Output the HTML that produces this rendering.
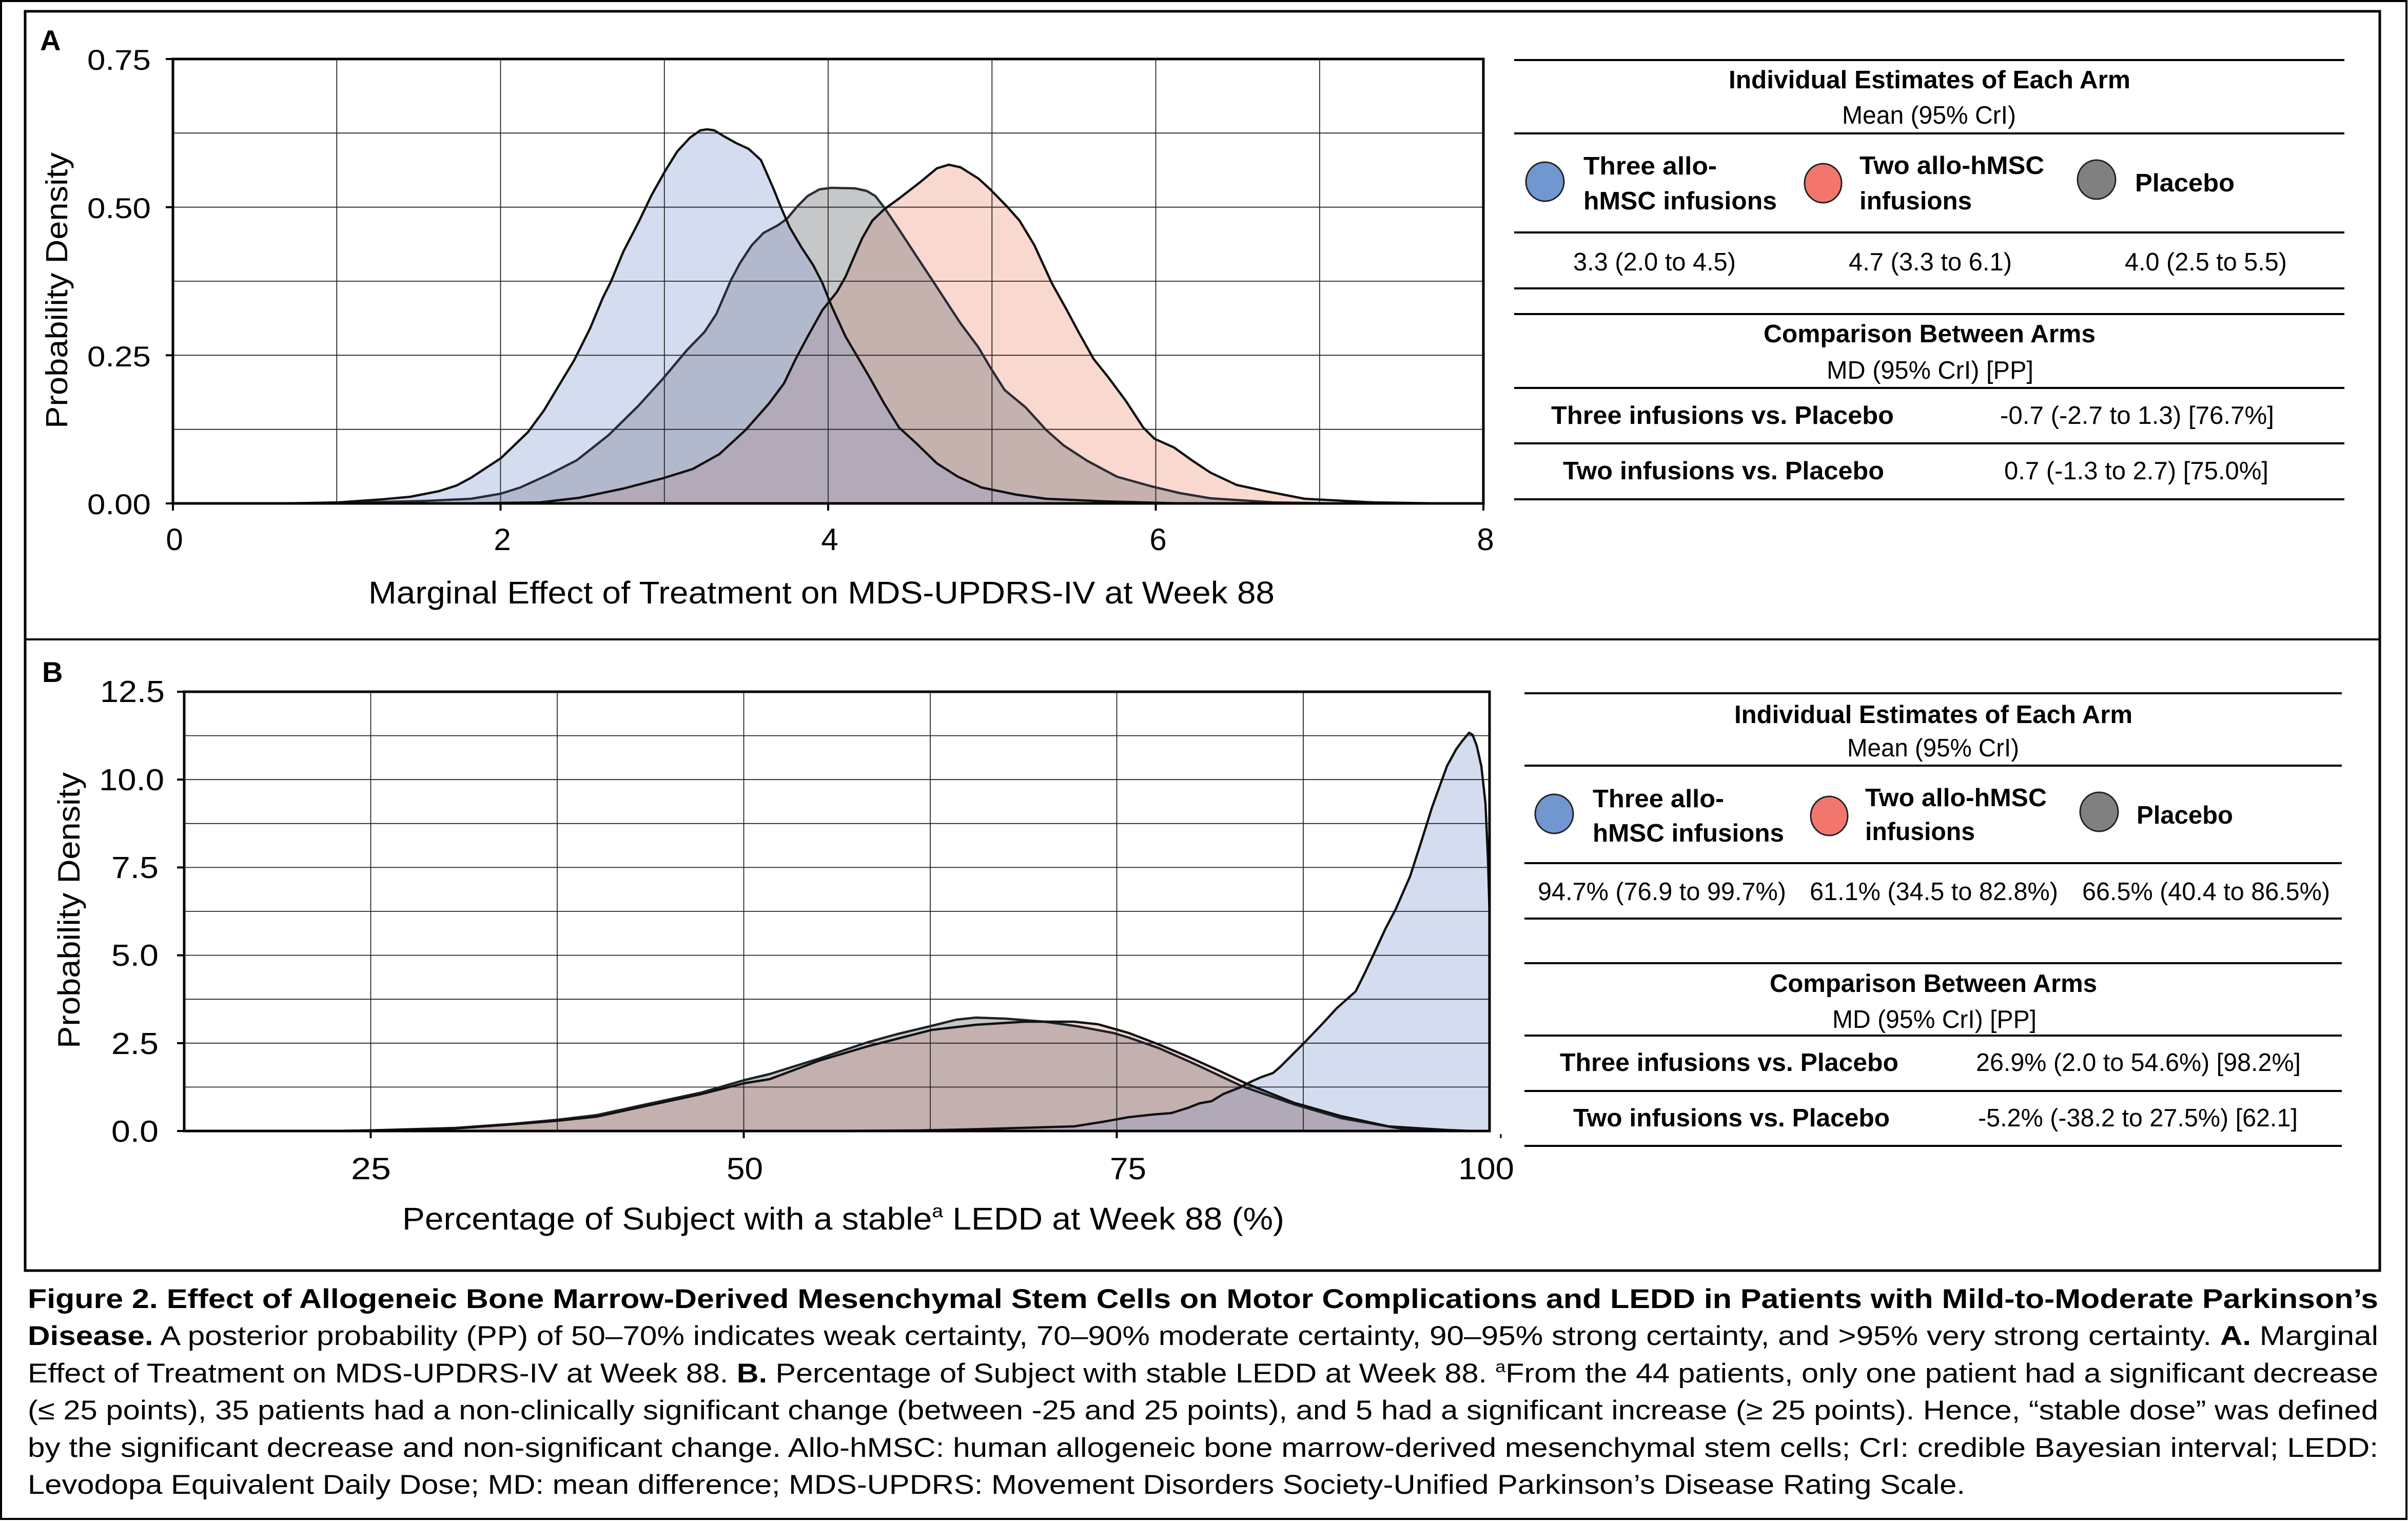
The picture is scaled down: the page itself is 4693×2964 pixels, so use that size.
<!DOCTYPE html>
<html>
<head>
<meta charset="utf-8">
<style>
html,body{margin:0;padding:0;background:#fff;}
svg{display:block;}
text{font-family:"Liberation Sans",Arial,sans-serif;fill:#000;}
.b{font-weight:bold;}
</style>
</head>
<body>
<svg width="4693" height="2964" viewBox="0 0 4693 2964" xmlns="http://www.w3.org/2000/svg">
<defs>
  <clipPath id="plotA"><rect x="337" y="115" width="2554" height="866"/></clipPath>
  <clipPath id="plotB"><rect x="359" y="1348" width="2544" height="856"/></clipPath>
  <clipPath id="cBA"><polygon points="560,981 660,979 746,973 800,968 856,957 890,946 918,931 950,910 976,893 1000,870 1029,842 1060,800 1090,750 1119,702 1150,640 1175,580 1191,548 1215,490 1244,434 1270,380 1297,332 1320,295 1345,268 1365,254 1378,252 1392,254 1410,265 1435,279 1459,290 1470,300 1483,312 1491,330 1508,369 1522,404 1539,443 1562,482 1585,517 1603,552 1620,595 1648,656 1671,695 1694,734 1723,786 1752,833 1786,864 1826,903 1867,929 1913,950 1981,964 2039,972 2154,977 2300,981"/></clipPath>
  <clipPath id="cGA"><polygon points="500,981 670,980 832,976 918,972 976,962 1014,950 1071,924 1124,897 1186,848 1244,791 1292,738 1339,682 1373,647 1396,612 1425,545 1442,513 1465,478 1488,454 1516,439 1534,426 1554,402 1574,382 1597,369 1620,366 1666,367 1689,372 1706,382 1723,404 1752,447 1786,499 1821,552 1849,595 1872,630 1907,677 1930,716 1958,760 1999,794 2039,838 2073,868 2119,898 2177,929 2245,948 2300,961 2359,971 2482,979 2600,981"/></clipPath>
  <clipPath id="cBB"><polygon points="1600,2204 1787,2203 1883,2201 2093,2195 2150,2186 2200,2177 2246,2172 2283,2169 2315,2159 2338,2150 2361,2146 2384,2132 2417,2119 2440,2107 2458,2099 2481,2091 2495,2079 2523,2051 2541,2033 2564,2009 2582,1990 2605,1965 2624,1948 2642,1932 2658,1900 2677,1860 2700,1810 2720,1772 2748,1708 2770,1640 2791,1573 2820,1493 2838,1460 2849,1445 2863,1428 2870,1432 2878,1453 2887,1493 2895,1565 2900,1676 2903,1780 2903,2204"/></clipPath>
  <clipPath id="cGB"><polygon points="650,2204 714,2203 888,2198 1000,2190 1087,2182 1163,2173 1255,2153 1367,2129 1450,2105 1500,2093 1596,2063 1691,2031 1749,2015 1816,1999 1864,1987 1902,1983 1959,1985 2036,1991 2100,2000 2170,2013 2200,2022 2260,2043 2332,2075 2421,2117 2522,2152 2614,2179 2728,2199 2797,2203 2850,2204"/></clipPath>
</defs>

<!-- frames -->
<rect x="2" y="2" width="4688" height="2958" fill="none" stroke="#000" stroke-width="4"/>
<rect x="49" y="22" width="4589" height="2454" fill="none" stroke="#000" stroke-width="5"/>
<line x1="49" y1="1246" x2="4638" y2="1246" stroke="#000" stroke-width="4"/>

<!-- ================= PANEL A ================= -->
<text class="b" x="78" y="98" font-size="56">A</text>

<g clip-path="url(#plotA)">
  <!-- blue -->
  <polygon fill="#d3ddef" points="560,981 660,979 746,973 800,968 856,957 890,946 918,931 950,910 976,893 1000,870 1029,842 1060,800 1090,750 1119,702 1150,640 1175,580 1191,548 1215,490 1244,434 1270,380 1297,332 1320,295 1345,268 1365,254 1378,252 1392,254 1410,265 1435,279 1459,290 1470,300 1483,312 1491,330 1508,369 1522,404 1539,443 1562,482 1585,517 1603,552 1620,595 1648,656 1671,695 1694,734 1723,786 1752,833 1786,864 1826,903 1867,929 1913,950 1981,964 2039,972 2154,977 2300,981"/>
  <!-- grey -->
  <polygon fill="#c5c7c9" points="500,981 670,980 832,976 918,972 976,962 1014,950 1071,924 1124,897 1186,848 1244,791 1292,738 1339,682 1373,647 1396,612 1425,545 1442,513 1465,478 1488,454 1516,439 1534,426 1554,402 1574,382 1597,369 1620,366 1666,367 1689,372 1706,382 1723,404 1752,447 1786,499 1821,552 1849,595 1872,630 1907,677 1930,716 1958,760 1999,794 2039,838 2073,868 2119,898 2177,929 2245,948 2300,961 2359,971 2482,979 2600,981"/>
  <g clip-path="url(#cBA)">
    <polygon fill="#b2b9cc" points="500,981 670,980 832,976 918,972 976,962 1014,950 1071,924 1124,897 1186,848 1244,791 1292,738 1339,682 1373,647 1396,612 1425,545 1442,513 1465,478 1488,454 1516,439 1534,426 1554,402 1574,382 1597,369 1620,366 1666,367 1689,372 1706,382 1723,404 1752,447 1786,499 1821,552 1849,595 1872,630 1907,677 1930,716 1958,760 1999,794 2039,838 2073,868 2119,898 2177,929 2245,948 2300,961 2359,971 2482,979 2600,981"/>
  </g>
  <!-- red -->
  <polygon fill="#f9d8d0" points="900,981 1052,979 1129,970 1215,952 1292,932 1350,914 1402,885 1453,838 1499,786 1528,747 1551,699 1574,656 1603,604 1631,569 1648,539 1663,504 1680,465 1700,430 1723,408 1752,387 1792,356 1826,328 1849,321 1872,326 1907,348 1930,369 1964,404 1987,430 2016,478 2050,552 2079,604 2102,647 2131,699 2159,734 2194,781 2228,833 2250,855 2288,872 2323,897 2359,921 2410,945 2471,958 2543,972 2676,979 2800,981"/>
  <g clip-path="url(#cGA)">
    <polygon fill="#c5b1ae" points="900,981 1052,979 1129,970 1215,952 1292,932 1350,914 1402,885 1453,838 1499,786 1528,747 1551,699 1574,656 1603,604 1631,569 1648,539 1663,504 1680,465 1700,430 1723,408 1752,387 1792,356 1826,328 1849,321 1872,326 1907,348 1930,369 1964,404 1987,430 2016,478 2050,552 2079,604 2102,647 2131,699 2159,734 2194,781 2228,833 2250,855 2288,872 2323,897 2359,921 2410,945 2471,958 2543,972 2676,979 2800,981"/>
  </g>
  <g clip-path="url(#cBA)">
    <polygon fill="#b2aab8" points="900,981 1052,979 1129,970 1215,952 1292,932 1350,914 1402,885 1453,838 1499,786 1528,747 1551,699 1574,656 1603,604 1631,569 1648,539 1663,504 1680,465 1700,430 1723,408 1752,387 1792,356 1826,328 1849,321 1872,326 1907,348 1930,369 1964,404 1987,430 2016,478 2050,552 2079,604 2102,647 2131,699 2159,734 2194,781 2228,833 2250,855 2288,872 2323,897 2359,921 2410,945 2471,958 2543,972 2676,979 2800,981"/>
  </g>
  <!-- gridlines -->
  <g stroke="#262626" stroke-width="1.8">
    <line x1="337" y1="259.3" x2="2891" y2="259.3"/>
    <line x1="337" y1="403.7" x2="2891" y2="403.7"/>
    <line x1="337" y1="548" x2="2891" y2="548"/>
    <line x1="337" y1="692.3" x2="2891" y2="692.3"/>
    <line x1="337" y1="836.7" x2="2891" y2="836.7"/>
    <line x1="656.3" y1="115" x2="656.3" y2="981"/>
    <line x1="975.5" y1="115" x2="975.5" y2="981"/>
    <line x1="1294.8" y1="115" x2="1294.8" y2="981"/>
    <line x1="1614" y1="115" x2="1614" y2="981"/>
    <line x1="1933.3" y1="115" x2="1933.3" y2="981"/>
    <line x1="2252.5" y1="115" x2="2252.5" y2="981"/>
    <line x1="2571.8" y1="115" x2="2571.8" y2="981"/>
  </g>
  <!-- outlines -->
  <g fill="none" stroke-width="4.5" stroke-linejoin="round" stroke-linecap="round">
    <polyline stroke="#2a2d35" points="500,981 670,980 832,976 918,972 976,962 1014,950 1071,924 1124,897 1186,848 1244,791 1292,738 1339,682 1373,647 1396,612 1425,545 1442,513 1465,478 1488,454 1516,439 1534,426 1554,402 1574,382 1597,369 1620,366 1666,367 1689,372 1706,382 1723,404 1752,447 1786,499 1821,552 1849,595 1872,630 1907,677 1930,716 1958,760 1999,794 2039,838 2073,868 2119,898 2177,929 2245,948 2300,961 2359,971 2482,979 2600,981"/>
    <polyline stroke="#111" points="560,981 660,979 746,973 800,968 856,957 890,946 918,931 950,910 976,893 1000,870 1029,842 1060,800 1090,750 1119,702 1150,640 1175,580 1191,548 1215,490 1244,434 1270,380 1297,332 1320,295 1345,268 1365,254 1378,252 1392,254 1410,265 1435,279 1459,290 1470,300 1483,312 1491,330 1508,369 1522,404 1539,443 1562,482 1585,517 1603,552 1620,595 1648,656 1671,695 1694,734 1723,786 1752,833 1786,864 1826,903 1867,929 1913,950 1981,964 2039,972 2154,977 2300,981"/>
    <polyline stroke="#111" points="900,981 1052,979 1129,970 1215,952 1292,932 1350,914 1402,885 1453,838 1499,786 1528,747 1551,699 1574,656 1603,604 1631,569 1648,539 1663,504 1680,465 1700,430 1723,408 1752,387 1792,356 1826,328 1849,321 1872,326 1907,348 1930,369 1964,404 1987,430 2016,478 2050,552 2079,604 2102,647 2131,699 2159,734 2194,781 2228,833 2250,855 2288,872 2323,897 2359,921 2410,945 2471,958 2543,972 2676,979 2800,981"/>
  </g>
</g>
<!-- plot A frame and ticks -->
<rect x="337" y="115" width="2554" height="866" fill="none" stroke="#000" stroke-width="5"/>
<g stroke="#000" stroke-width="4">
  <line x1="323" y1="115" x2="337" y2="115"/>
  <line x1="323" y1="403.7" x2="337" y2="403.7"/>
  <line x1="323" y1="692.3" x2="337" y2="692.3"/>
  <line x1="323" y1="981" x2="337" y2="981"/>
  <line x1="337" y1="981" x2="337" y2="995"/>
  <line x1="975.5" y1="981" x2="975.5" y2="995"/>
  <line x1="1614" y1="981" x2="1614" y2="995"/>
  <line x1="2252.5" y1="981" x2="2252.5" y2="995"/>
  <line x1="2891" y1="981" x2="2891" y2="995"/>
</g>
<g font-size="56">
  <text x="170" y="136" textLength="124" lengthAdjust="spacingAndGlyphs">0.75</text>
  <text x="170" y="425" textLength="124" lengthAdjust="spacingAndGlyphs">0.50</text>
  <text x="170" y="714" textLength="124" lengthAdjust="spacingAndGlyphs">0.25</text>
  <text x="170" y="1002" textLength="124" lengthAdjust="spacingAndGlyphs">0.00</text>
</g>
<g font-size="60" text-anchor="middle">
  <text x="340" y="1072">0</text>
  <text x="979" y="1072">2</text>
  <text x="1617" y="1072">4</text>
  <text x="2257" y="1072">6</text>
  <text x="2895" y="1072">8</text>
</g>
<text x="718" y="1176" font-size="61" textLength="1766" lengthAdjust="spacingAndGlyphs">Marginal Effect of Treatment on MDS-UPDRS-IV at Week 88</text>
<text transform="translate(131,566) rotate(-90)" x="-269" y="0" font-size="59" textLength="538" lengthAdjust="spacingAndGlyphs">Probability Density</text>

<!-- Table A -->
<g stroke="#000" stroke-width="4">
  <line x1="2951" y1="117" x2="4569" y2="117"/>
  <line x1="2951" y1="260" x2="4569" y2="260"/>
  <line x1="2951" y1="453" x2="4569" y2="453"/>
  <line x1="2951" y1="562" x2="4569" y2="562"/>
  <line x1="2951" y1="612" x2="4569" y2="612"/>
  <line x1="2951" y1="756" x2="4569" y2="756"/>
  <line x1="2951" y1="864" x2="4569" y2="864"/>
  <line x1="2951" y1="973" x2="4569" y2="973"/>
</g>
<g font-size="49">
  <text class="b" x="3369" y="172" textLength="783" lengthAdjust="spacingAndGlyphs">Individual Estimates of Each Arm</text>
  <text x="3590" y="241" textLength="339" lengthAdjust="spacingAndGlyphs">Mean (95% CrI)</text>
  <ellipse cx="3011" cy="354" rx="37" ry="38" fill="#7097cf" stroke="#222" stroke-width="3"/>
  <ellipse cx="3553" cy="357" rx="36" ry="38" fill="#f2766d" stroke="#222" stroke-width="3"/>
  <ellipse cx="4086" cy="350" rx="37" ry="38" fill="#808080" stroke="#222" stroke-width="3"/>
  <text class="b" x="3086" y="340" textLength="260" lengthAdjust="spacingAndGlyphs">Three allo-</text>
  <text class="b" x="3086" y="408" textLength="377" lengthAdjust="spacingAndGlyphs">hMSC infusions</text>
  <text class="b" x="3624" y="339" textLength="360" lengthAdjust="spacingAndGlyphs">Two allo-hMSC</text>
  <text class="b" x="3624" y="408" textLength="219" lengthAdjust="spacingAndGlyphs">infusions</text>
  <text class="b" x="4161" y="373" textLength="194" lengthAdjust="spacingAndGlyphs">Placebo</text>
  <text x="3066" y="527" textLength="317" lengthAdjust="spacingAndGlyphs">3.3 (2.0 to 4.5)</text>
  <text x="3603" y="527" textLength="318" lengthAdjust="spacingAndGlyphs">4.7 (3.3 to 6.1)</text>
  <text x="4141" y="527" textLength="316" lengthAdjust="spacingAndGlyphs">4.0 (2.5 to 5.5)</text>
  <text class="b" x="3437" y="667" textLength="647" lengthAdjust="spacingAndGlyphs">Comparison Between Arms</text>
  <text x="3560" y="738" textLength="403" lengthAdjust="spacingAndGlyphs">MD (95% CrI) [PP]</text>
  <text class="b" x="3023" y="826" textLength="668" lengthAdjust="spacingAndGlyphs">Three infusions vs. Placebo</text>
  <text x="3898" y="826" textLength="534" lengthAdjust="spacingAndGlyphs">-0.7 (-2.7 to 1.3) [76.7%]</text>
  <text class="b" x="3046" y="934" textLength="626" lengthAdjust="spacingAndGlyphs">Two infusions vs. Placebo</text>
  <text x="3906" y="934" textLength="515" lengthAdjust="spacingAndGlyphs">0.7 (-1.3 to 2.7) [75.0%]</text>
</g>

<!-- ================= PANEL B ================= -->
<text class="b" x="82" y="1329" font-size="56">B</text>

<g clip-path="url(#plotB)">
  <!-- blue -->
  <polygon fill="#d3ddef" points="1600,2204 1787,2203 1883,2201 2093,2195 2150,2186 2200,2177 2246,2172 2283,2169 2315,2159 2338,2150 2361,2146 2384,2132 2417,2119 2440,2107 2458,2099 2481,2091 2495,2079 2523,2051 2541,2033 2564,2009 2582,1990 2605,1965 2624,1948 2642,1932 2658,1900 2677,1860 2700,1810 2720,1772 2748,1708 2770,1640 2791,1573 2820,1493 2838,1460 2849,1445 2863,1428 2870,1432 2878,1453 2887,1493 2895,1565 2900,1676 2903,1780 2903,2204"/>
  <!-- grey -->
  <polygon fill="#c5c7c9" points="650,2204 714,2203 888,2198 1000,2190 1087,2182 1163,2173 1255,2153 1367,2129 1450,2105 1500,2093 1596,2063 1691,2031 1749,2015 1816,1999 1864,1987 1902,1983 1959,1985 2036,1991 2100,2000 2170,2013 2200,2022 2260,2043 2332,2075 2421,2117 2522,2152 2614,2179 2728,2199 2797,2203 2850,2204"/>
  <g clip-path="url(#cBB)">
    <polygon fill="#b2b9cc" points="650,2204 714,2203 888,2198 1000,2190 1087,2182 1163,2173 1255,2153 1367,2129 1450,2105 1500,2093 1596,2063 1691,2031 1749,2015 1816,1999 1864,1987 1902,1983 1959,1985 2036,1991 2100,2000 2170,2013 2200,2022 2260,2043 2332,2075 2421,2117 2522,2152 2614,2179 2728,2199 2797,2203 2850,2204"/>
  </g>
  <!-- red -->
  <polygon fill="#f9d8d0" points="650,2204 714,2203 888,2199 1000,2191 1087,2184 1163,2176 1255,2156 1367,2132 1450,2111 1500,2103 1596,2067 1691,2039 1816,2007 1902,1997 1997,1991 2093,1991 2140,1996 2200,2013 2260,2036 2315,2059 2375,2086 2430,2112 2522,2149 2614,2175 2706,2195 2820,2202 2870,2204"/>
  <g clip-path="url(#cGB)">
    <polygon fill="#c4b0ae" points="650,2204 714,2203 888,2199 1000,2191 1087,2184 1163,2176 1255,2156 1367,2132 1450,2111 1500,2103 1596,2067 1691,2039 1816,2007 1902,1997 1997,1991 2093,1991 2140,1996 2200,2013 2260,2036 2315,2059 2375,2086 2430,2112 2522,2149 2614,2175 2706,2195 2820,2202 2870,2204"/>
  </g>
  <g clip-path="url(#cBB)">
    <polygon fill="#b1a9b8" points="650,2204 714,2203 888,2199 1000,2191 1087,2184 1163,2176 1255,2156 1367,2132 1450,2111 1500,2103 1596,2067 1691,2039 1816,2007 1902,1997 1997,1991 2093,1991 2140,1996 2200,2013 2260,2036 2315,2059 2375,2086 2430,2112 2522,2149 2614,2175 2706,2195 2820,2202 2870,2204"/>
  </g>
  <!-- gridlines -->
  <g stroke="#262626" stroke-width="1.8">
    <line x1="359" y1="1433.6" x2="2903" y2="1433.6"/>
    <line x1="359" y1="1519.2" x2="2903" y2="1519.2"/>
    <line x1="359" y1="1604.8" x2="2903" y2="1604.8"/>
    <line x1="359" y1="1690.4" x2="2903" y2="1690.4"/>
    <line x1="359" y1="1776" x2="2903" y2="1776"/>
    <line x1="359" y1="1861.6" x2="2903" y2="1861.6"/>
    <line x1="359" y1="1947.2" x2="2903" y2="1947.2"/>
    <line x1="359" y1="2032.8" x2="2903" y2="2032.8"/>
    <line x1="359" y1="2118.4" x2="2903" y2="2118.4"/>
    <line x1="722.5" y1="1348" x2="722.5" y2="2204"/>
    <line x1="1086" y1="1348" x2="1086" y2="2204"/>
    <line x1="1449.5" y1="1348" x2="1449.5" y2="2204"/>
    <line x1="1813" y1="1348" x2="1813" y2="2204"/>
    <line x1="2176.5" y1="1348" x2="2176.5" y2="2204"/>
    <line x1="2540" y1="1348" x2="2540" y2="2204"/>
  </g>
  <!-- outlines -->
  <g fill="none" stroke-width="4.5" stroke-linejoin="round" stroke-linecap="round">
    <polyline stroke="#1e2128" points="650,2204 714,2203 888,2198 1000,2190 1087,2182 1163,2173 1255,2153 1367,2129 1450,2105 1500,2093 1596,2063 1691,2031 1749,2015 1816,1999 1864,1987 1902,1983 1959,1985 2036,1991 2100,2000 2170,2013 2200,2022 2260,2043 2332,2075 2421,2117 2522,2152 2614,2179 2728,2199 2797,2203 2850,2204"/>
    <polyline stroke="#111" points="650,2204 714,2203 888,2199 1000,2191 1087,2184 1163,2176 1255,2156 1367,2132 1450,2111 1500,2103 1596,2067 1691,2039 1816,2007 1902,1997 1997,1991 2093,1991 2140,1996 2200,2013 2260,2036 2315,2059 2375,2086 2430,2112 2522,2149 2614,2175 2706,2195 2820,2202 2870,2204"/>
    <polyline stroke="#111" points="1600,2204 1787,2203 1883,2201 2093,2195 2150,2186 2200,2177 2246,2172 2283,2169 2315,2159 2338,2150 2361,2146 2384,2132 2417,2119 2440,2107 2458,2099 2481,2091 2495,2079 2523,2051 2541,2033 2564,2009 2582,1990 2605,1965 2624,1948 2642,1932 2658,1900 2677,1860 2700,1810 2720,1772 2748,1708 2770,1640 2791,1573 2820,1493 2838,1460 2849,1445 2863,1428 2870,1432 2878,1453 2887,1493 2895,1565 2900,1676 2903,1780"/>
  </g>
</g>
<!-- plot B frame and ticks -->
<rect x="359" y="1348" width="2544" height="856" fill="none" stroke="#000" stroke-width="5"/>
<g stroke="#000" stroke-width="4">
  <line x1="345" y1="1348" x2="359" y2="1348"/>
  <line x1="345" y1="1519.2" x2="359" y2="1519.2"/>
  <line x1="345" y1="1690.4" x2="359" y2="1690.4"/>
  <line x1="345" y1="1861.6" x2="359" y2="1861.6"/>
  <line x1="345" y1="2032.8" x2="359" y2="2032.8"/>
  <line x1="345" y1="2204" x2="359" y2="2204"/>
  <line x1="722.5" y1="2204" x2="722.5" y2="2218"/>
  <line x1="1449.5" y1="2204" x2="1449.5" y2="2218"/>
  <line x1="2176.5" y1="2204" x2="2176.5" y2="2218"/>
  <line x1="2925" y1="2210" x2="2925" y2="2218" stroke-width="3"/>
</g>
<g font-size="59">
  <text x="195" y="1368" textLength="126" lengthAdjust="spacingAndGlyphs">12.5</text>
  <text x="193" y="1540" textLength="127" lengthAdjust="spacingAndGlyphs">10.0</text>
  <text x="217" y="1711" textLength="92" lengthAdjust="spacingAndGlyphs">7.5</text>
  <text x="217" y="1882" textLength="92" lengthAdjust="spacingAndGlyphs">5.0</text>
  <text x="217" y="2054" textLength="92" lengthAdjust="spacingAndGlyphs">2.5</text>
  <text x="217" y="2225" textLength="92" lengthAdjust="spacingAndGlyphs">0.0</text>
</g>
<g font-size="60">
  <text x="684" y="2298" textLength="78" lengthAdjust="spacingAndGlyphs">25</text>
  <text x="1416" y="2298" textLength="71" lengthAdjust="spacingAndGlyphs">50</text>
  <text x="2163" y="2298" textLength="71" lengthAdjust="spacingAndGlyphs">75</text>
  <text x="2842" y="2298" textLength="109" lengthAdjust="spacingAndGlyphs">100</text>
</g>
<text x="784" y="2396" font-size="61" textLength="1719" lengthAdjust="spacingAndGlyphs">Percentage of Subject with a stable<tspan font-size="36" dy="-24">a</tspan><tspan dy="24"> LEDD at Week 88 (%)</tspan></text>
<text transform="translate(155,1774) rotate(-90)" x="-269" y="0" font-size="60" textLength="538" lengthAdjust="spacingAndGlyphs">Probability Density</text>

<!-- Table B -->
<g stroke="#000" stroke-width="4">
  <line x1="2971" y1="1351" x2="4564" y2="1351"/>
  <line x1="2971" y1="1492" x2="4564" y2="1492"/>
  <line x1="2971" y1="1682" x2="4564" y2="1682"/>
  <line x1="2971" y1="1790" x2="4564" y2="1790"/>
  <line x1="2971" y1="1877" x2="4564" y2="1877"/>
  <line x1="2971" y1="2018" x2="4564" y2="2018"/>
  <line x1="2971" y1="2126" x2="4564" y2="2126"/>
  <line x1="2971" y1="2233" x2="4564" y2="2233"/>
</g>
<g font-size="49">
  <text class="b" x="3380" y="1409" textLength="776" lengthAdjust="spacingAndGlyphs">Individual Estimates of Each Arm</text>
  <text x="3600" y="1474" textLength="335" lengthAdjust="spacingAndGlyphs">Mean (95% CrI)</text>
  <ellipse cx="3029" cy="1586" rx="37" ry="38" fill="#7097cf" stroke="#222" stroke-width="3"/>
  <ellipse cx="3565" cy="1590" rx="36" ry="38" fill="#f2766d" stroke="#222" stroke-width="3"/>
  <ellipse cx="4091" cy="1582" rx="37" ry="38" fill="#808080" stroke="#222" stroke-width="3"/>
  <text class="b" x="3104" y="1573" textLength="256" lengthAdjust="spacingAndGlyphs">Three allo-</text>
  <text class="b" x="3104" y="1640" textLength="373" lengthAdjust="spacingAndGlyphs">hMSC infusions</text>
  <text class="b" x="3635" y="1571" textLength="354" lengthAdjust="spacingAndGlyphs">Two allo-hMSC</text>
  <text class="b" x="3635" y="1637" textLength="214" lengthAdjust="spacingAndGlyphs">infusions</text>
  <text class="b" x="4164" y="1605" textLength="188" lengthAdjust="spacingAndGlyphs">Placebo</text>
  <text x="2997" y="1754" textLength="484" lengthAdjust="spacingAndGlyphs">94.7% (76.9 to 99.7%)</text>
  <text x="3527" y="1754" textLength="484" lengthAdjust="spacingAndGlyphs">61.1% (34.5 to 82.8%)</text>
  <text x="4058" y="1754" textLength="483" lengthAdjust="spacingAndGlyphs">66.5% (40.4 to 86.5%)</text>
  <text class="b" x="3449" y="1933" textLength="638" lengthAdjust="spacingAndGlyphs">Comparison Between Arms</text>
  <text x="3571" y="2003" textLength="398" lengthAdjust="spacingAndGlyphs">MD (95% CrI) [PP]</text>
  <text class="b" x="3040" y="2087" textLength="660" lengthAdjust="spacingAndGlyphs">Three infusions vs. Placebo</text>
  <text x="3851" y="2087" textLength="633" lengthAdjust="spacingAndGlyphs">26.9% (2.0 to 54.6%) [98.2%]</text>
  <text class="b" x="3066" y="2195" textLength="617" lengthAdjust="spacingAndGlyphs">Two infusions vs. Placebo</text>
  <text x="3855" y="2195" textLength="623" lengthAdjust="spacingAndGlyphs">-5.2% (-38.2 to 27.5%) [62.1]</text>
</g>

<!-- ================= CAPTION ================= -->
<g font-size="53">
  <text class="b" x="54" y="2549" textLength="4581" lengthAdjust="spacingAndGlyphs">Figure 2. Effect of Allogeneic Bone Marrow-Derived Mesenchymal Stem Cells on Motor Complications and LEDD in Patients with Mild-to-Moderate Parkinson’s</text>
  <text x="54" y="2621" textLength="4581" lengthAdjust="spacingAndGlyphs"><tspan font-weight="bold">Disease.</tspan> A posterior probability (PP) of 50–70% indicates weak certainty, 70–90% moderate certainty, 90–95% strong certainty, and &gt;95% very strong certainty. <tspan font-weight="bold">A.</tspan> Marginal</text>
  <text x="54" y="2694" textLength="4581" lengthAdjust="spacingAndGlyphs">Effect of Treatment on MDS-UPDRS-IV at Week 88. <tspan font-weight="bold">B.</tspan> Percentage of Subject with stable LEDD at Week 88. <tspan font-size="32" dy="-20">a</tspan><tspan dy="20">From the 44 patients, only one patient had a significant decrease</tspan></text>
  <text x="54" y="2766" textLength="4581" lengthAdjust="spacingAndGlyphs">(≤ 25 points), 35 patients had a non-clinically significant change (between -25 and 25 points), and 5 had a significant increase (≥ 25 points). Hence, “stable dose” was defined</text>
  <text x="54" y="2839" textLength="4581" lengthAdjust="spacingAndGlyphs">by the significant decrease and non-significant change. Allo-hMSC: human allogeneic bone marrow-derived mesenchymal stem cells; CrI: credible Bayesian interval; LEDD:</text>
  <text x="54" y="2911" textLength="3776" lengthAdjust="spacingAndGlyphs">Levodopa Equivalent Daily Dose; MD: mean difference; MDS-UPDRS: Movement Disorders Society-Unified Parkinson’s Disease Rating Scale.</text>
</g>
</svg>
</body>
</html>
